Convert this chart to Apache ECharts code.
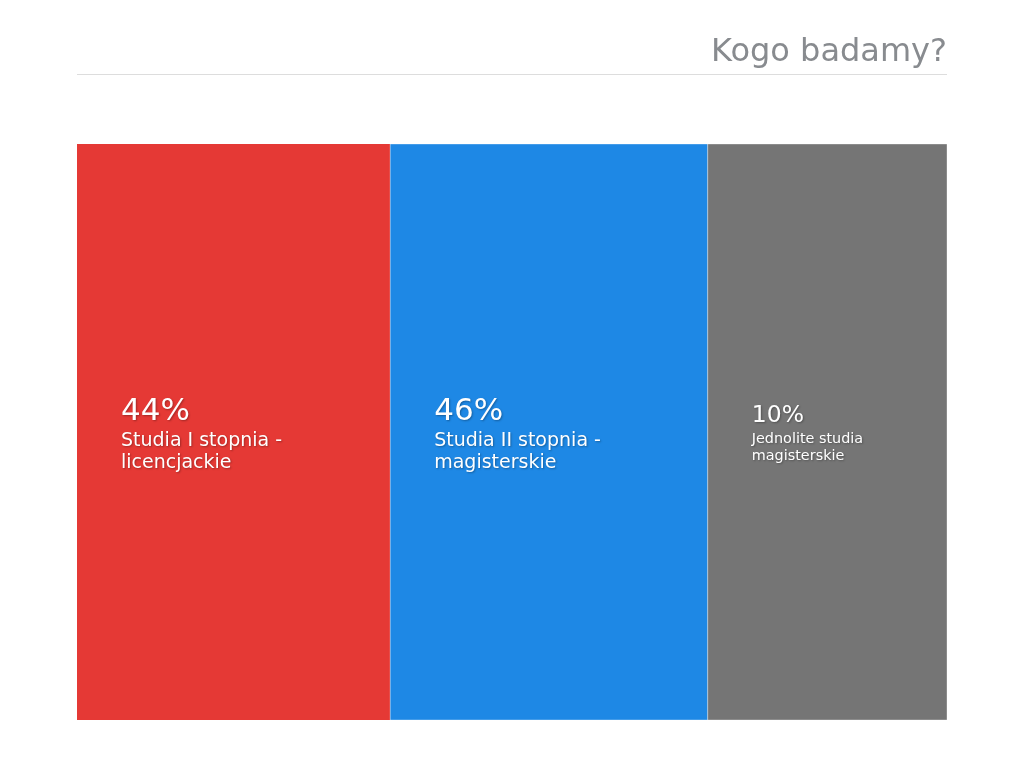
<!DOCTYPE html>
<html lang="pl" style="height: 100%">
<head>
    <meta charset="utf-8">
    <script src="https://cdn.jsdelivr.net/npm/echarts@6/dist/echarts.min.js"></script>
</head>
<body style="height: 100%; margin: 0; background: #fff">
    <div id="container" style="width: 1024px; height: 768px"></div>
    <script type="text/javascript">
        const titleText = 'Kogo badamy?';
        const categories = ['Studia I stopnia - licencjackie', 'Studia II stopnia - magisterskie', 'Jednolite studia magisterskie'];
        const shares = [44, 46, 10];

        // each block gets a fixed base width plus its share
        const baseWeight = 100;

        let dom = document.getElementById('container');
        let myChart = echarts.init(dom, null, { renderer: 'canvas' });

        let seriesData = [];
        let acc = 0;
        shares.forEach((v, i) => {
            let w = v + baseWeight;
            seriesData.push([acc, acc + w, v, i]);
            acc += w;
        });

        const palette = ['#e53935', '#1e88e5', '#757575'];

        const shadow = {
            textShadowColor: 'rgba(0,0,0,0.3)',
            textShadowBlur: 2,
            textShadowOffsetX: 1,
            textShadowOffsetY: 1
        };

        // word wrap without leading spaces on the new line
        const measureCtx = document.createElement('canvas').getContext('2d');
        const wrapText = (text, font, maxWidth) => {
            measureCtx.font = font;
            let lines = [];
            let cur = '';
            text.split(' ').forEach(word => {
                let test = cur ? cur + ' ' + word : word;
                if (cur && measureCtx.measureText(test).width > maxWidth) {
                    lines.push(cur);
                    cur = word;
                } else {
                    cur = test;
                }
            });
            if (cur) lines.push(cur);
            return lines.join('\n');
        };

        const renderItem = (params, api) => {
            let start = api.coord([api.value(0), 1]);
            let end = api.coord([api.value(1), 0]);
            let idx = api.value(3);
            let w = end[0] - start[0];
            let h = end[1] - start[1];
            let cy = start[1] + h / 2;
            let big = w > 280;
            let lblSize = big ? 19 : 14.4;
            return {
                type: 'group',
                children: [
                    {
                        type: 'rect',
                        shape: { x: start[0], y: start[1], width: w, height: h },
                        style: { fill: palette[idx], stroke: 'rgba(255,255,255,0.35)', lineWidth: idx > 0 ? 1 : 0 }
                    },
                    {
                        type: 'text',
                        x: start[0] + 44,
                        y: cy + (big ? -20 : -16),
                        style: Object.assign({
                            text: api.value(2) + '%',
                            verticalAlign: 'middle',
                            align: 'left',
                            fill: '#fff',
                            fontSize: big ? 31 : 23.5,
                            fontFamily: 'DejaVu Sans'
                        }, shadow)
                    },
                    {
                        type: 'text',
                        x: start[0] + 44,
                        y: cy + (big ? -2 : -1),
                        style: Object.assign({
                            text: wrapText(categories[idx], lblSize + 'px "DejaVu Sans"', w - 88),
                            verticalAlign: 'top',
                            align: 'left',
                            lineHeight: big ? 22 : 17,
                            fill: '#fff',
                            fontSize: lblSize,
                            fontFamily: 'DejaVu Sans'
                        }, shadow)
                    }
                ]
            };
        };

        let option = {
            animation: false,
            graphic: [
                {
                    type: 'text',
                    right: 77,
                    top: 37,
                    style: { text: titleText, fontSize: 32, fontFamily: 'DejaVu Sans', fill: '#888b8f' }
                },
                {
                    type: 'line',
                    shape: { x1: 77, y1: 74.5, x2: 947, y2: 74.5 },
                    style: { stroke: '#dddddd', lineWidth: 1 }
                }
            ],
            grid: { left: 77, right: 77, top: 144, bottom: 48 },
            xAxis: { type: 'value', min: 0, max: acc, show: false },
            yAxis: { type: 'value', min: 0, max: 1, show: false },
            series: [
                {
                    type: 'custom',
                    renderItem: renderItem,
                    data: seriesData
                }
            ]
        };

        myChart.setOption(option);
    </script>
</body>
</html>
